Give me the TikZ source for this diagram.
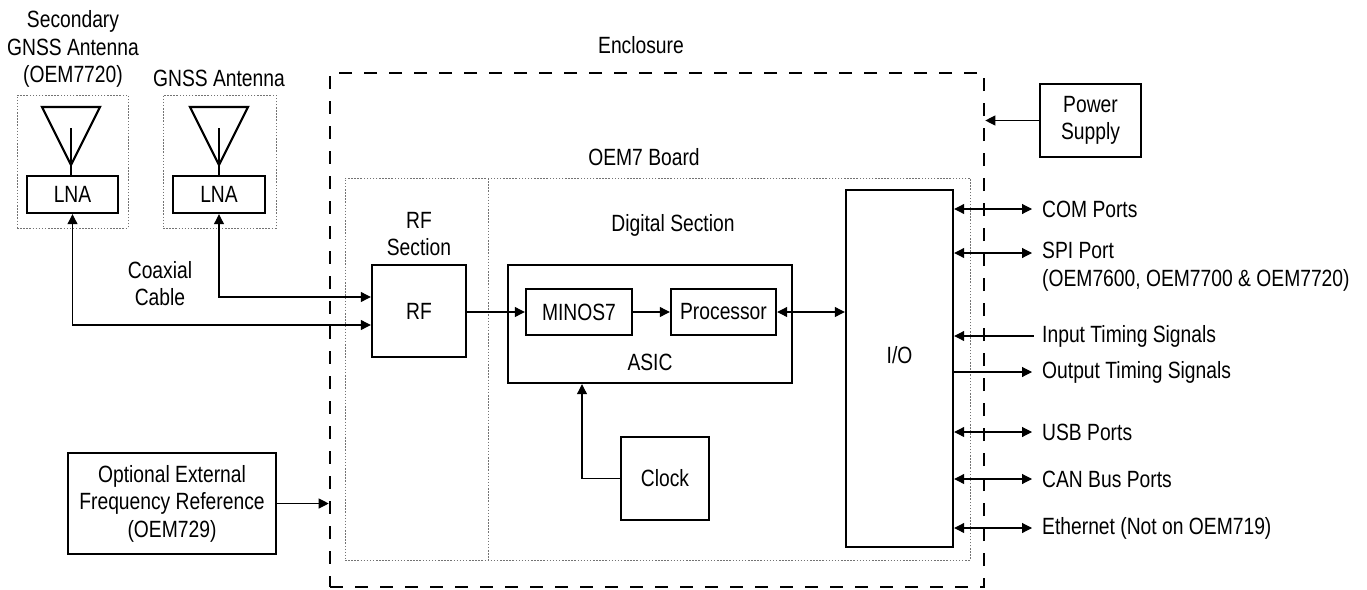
\documentclass[tikz,border=0pt]{standalone}
\usepackage{fontspec}
\setmainfont{Liberation Sans}[FakeStretch=0.82]
\usetikzlibrary{arrows.meta,calc}
\begin{document}
\begin{tikzpicture}[x=1pt,y=-1pt,
  every node/.style={font=\fontsize{23.5}{27.5}\selectfont, inner sep=0pt},
  box/.style={draw, line width=2.4pt, inner sep=0pt},
  dotbox/.style={draw=black!55, line width=0.9pt, dash pattern=on 1.5pt off 1.6pt},
  enclbox/.style={draw, line width=2.6pt, dash pattern=on 13pt off 12pt},
  conn/.style={line width=1.1pt, -{Triangle[length=10pt,width=10pt]}},
  dconn/.style={line width=1.1pt, {Triangle[length=10pt,width=10pt]}-{Triangle[length=10pt,width=10pt]}},
  rconn/.style={line width=1.1pt, {Triangle[length=10pt,width=10pt]}-},
  lbl/.style={align=center},
  rlbl/.style={anchor=west, align=left}]
\useasboundingbox (0,0) rectangle (1367,589);

% enclosure and board
\node[enclbox, minimum width=654pt, minimum height=514pt] (encl) at (657,330) {};
\node[lbl] (encllbl) at (641,45) {Enclosure};
\node[dotbox, minimum width=625pt, minimum height=382pt] (board) at (657.5,369) {};
\node[lbl] (boardlbl) at (644,157) {OEM7 Board};
\coordinate (septop) at (488,178);
\coordinate (sepbot) at (488,560);
\draw[dotbox] (septop) -- (sepbot);

% antennas
\node[dotbox, minimum width=111pt, minimum height=133pt] (ant1box) at (72.5,161.5) {};
\node[dotbox, minimum width=113pt, minimum height=133pt] (ant2box) at (219.5,161.5) {};
\node[lbl] (ant1lbl) at (73,49) {Secondary\\GNSS Antenna\\(OEM7720)};
\node[lbl] (ant2lbl) at (219,78) {GNSS Antenna};
\node[box, minimum width=91pt, minimum height=37pt] (lna1) at (72.5,194.5) {LNA};
\node[box, minimum width=92pt, minimum height=37pt] (lna2) at (219,194.5) {LNA};
\draw[line width=2.2pt, line join=miter] (42,107) -- (100,107) -- (71,165) -- cycle;
\draw[line width=2.2pt] (71,128) -- (lna1.north -| 71,0);
\draw[line width=2.2pt, line join=miter] (190,107) -- (248,107) -- (219,165) -- cycle;
\draw[line width=2.2pt] (219,128) -- (lna2.north -| 219,0);
\node[lbl] (coax) at (160,283.5) {Coaxial\\Cable};

% RF and digital
\node[lbl] (rflbl) at (419,234) {RF\\Section};
\node[lbl] (diglbl) at (673,225) {Digital Section};
\node[box, minimum width=94pt, minimum height=92pt] (rf) at (419,311) {RF};
\node[box, minimum width=284pt, minimum height=118pt] (asic) at (650,324) {};
\node[lbl] (asiclbl) at (650,362) {ASIC};
\node[box, minimum width=106pt, minimum height=46pt] (minos) at (579,312) {MINOS7};
\node[box, minimum width=105pt, minimum height=46pt] (proc) at (723.5,312) {Processor};
\node[box, minimum width=88pt, minimum height=83pt] (clock) at (665,478.5) {Clock};
\node[box, minimum width=107pt, minimum height=357pt] (io) at (899.5,368.5) {};
\node[lbl] (iolbl) at (899.5,355) {I/O};

% external boxes
\node[box, minimum width=101pt, minimum height=73pt, align=center] (power) at (1090.5,120.5) {Power\\Supply};
\node[box, minimum width=208pt, minimum height=101pt, align=center] (ext) at (172,503.5) {Optional External\\Frequency Reference\\(OEM729)};

% connectors
\draw[dconn] (lna1.south) |- ($(rf.west)+(0,14)$);
\draw[dconn] (lna2.south) |- ($(rf.west)+(0,-14)$);
\draw[conn] (rf.east |- minos.west) -- (minos.west);
\draw[conn] (minos.east) -- (proc.west);
\draw[dconn] (proc.east) -- (proc.east -| io.west);
\draw[conn] (clock.west) -| ($(asic.south)+(-68,0)$);
\draw[conn] (ext.east) -- (ext.east -| encl.west);
\draw[conn] (power.west) -- (power.west -| encl.east);

% right side signals
\coordinate (com) at (1032,209);
\coordinate (spi) at (1032,253);
\coordinate (inp) at (1034,336);
\coordinate (outp) at (1032,372);
\coordinate (usb) at (1032,432);
\coordinate (can) at (1032,479);
\coordinate (eth) at (1032,528);
\draw[dconn] (io.east |- com) -- (com);
\draw[dconn] (io.east |- spi) -- (spi);
\draw[rconn] (io.east |- inp) -- (inp);
\draw[conn] (io.east |- outp) -- (outp);
\draw[dconn] (io.east |- usb) -- (usb);
\draw[dconn] (io.east |- can) -- (can);
\draw[dconn] (io.east |- eth) -- (eth);
\node[rlbl] (comlbl) at (1042,209) {COM Ports};
\node[rlbl] (spilbl) at (1042,266.5) {SPI Port\\(OEM7600, OEM7700 \& OEM7720)};
\node[rlbl] (inplbl) at (1042,336) {Input Timing Signals};
\node[rlbl] (outlbl) at (1042,372) {Output Timing Signals};
\node[rlbl] (usblbl) at (1042,432) {USB Ports};
\node[rlbl] (canlbl) at (1042,479) {CAN Bus Ports};
\node[rlbl] (ethlbl) at (1042,528) {Ethernet (Not on OEM719)};
\end{tikzpicture}
\end{document}
